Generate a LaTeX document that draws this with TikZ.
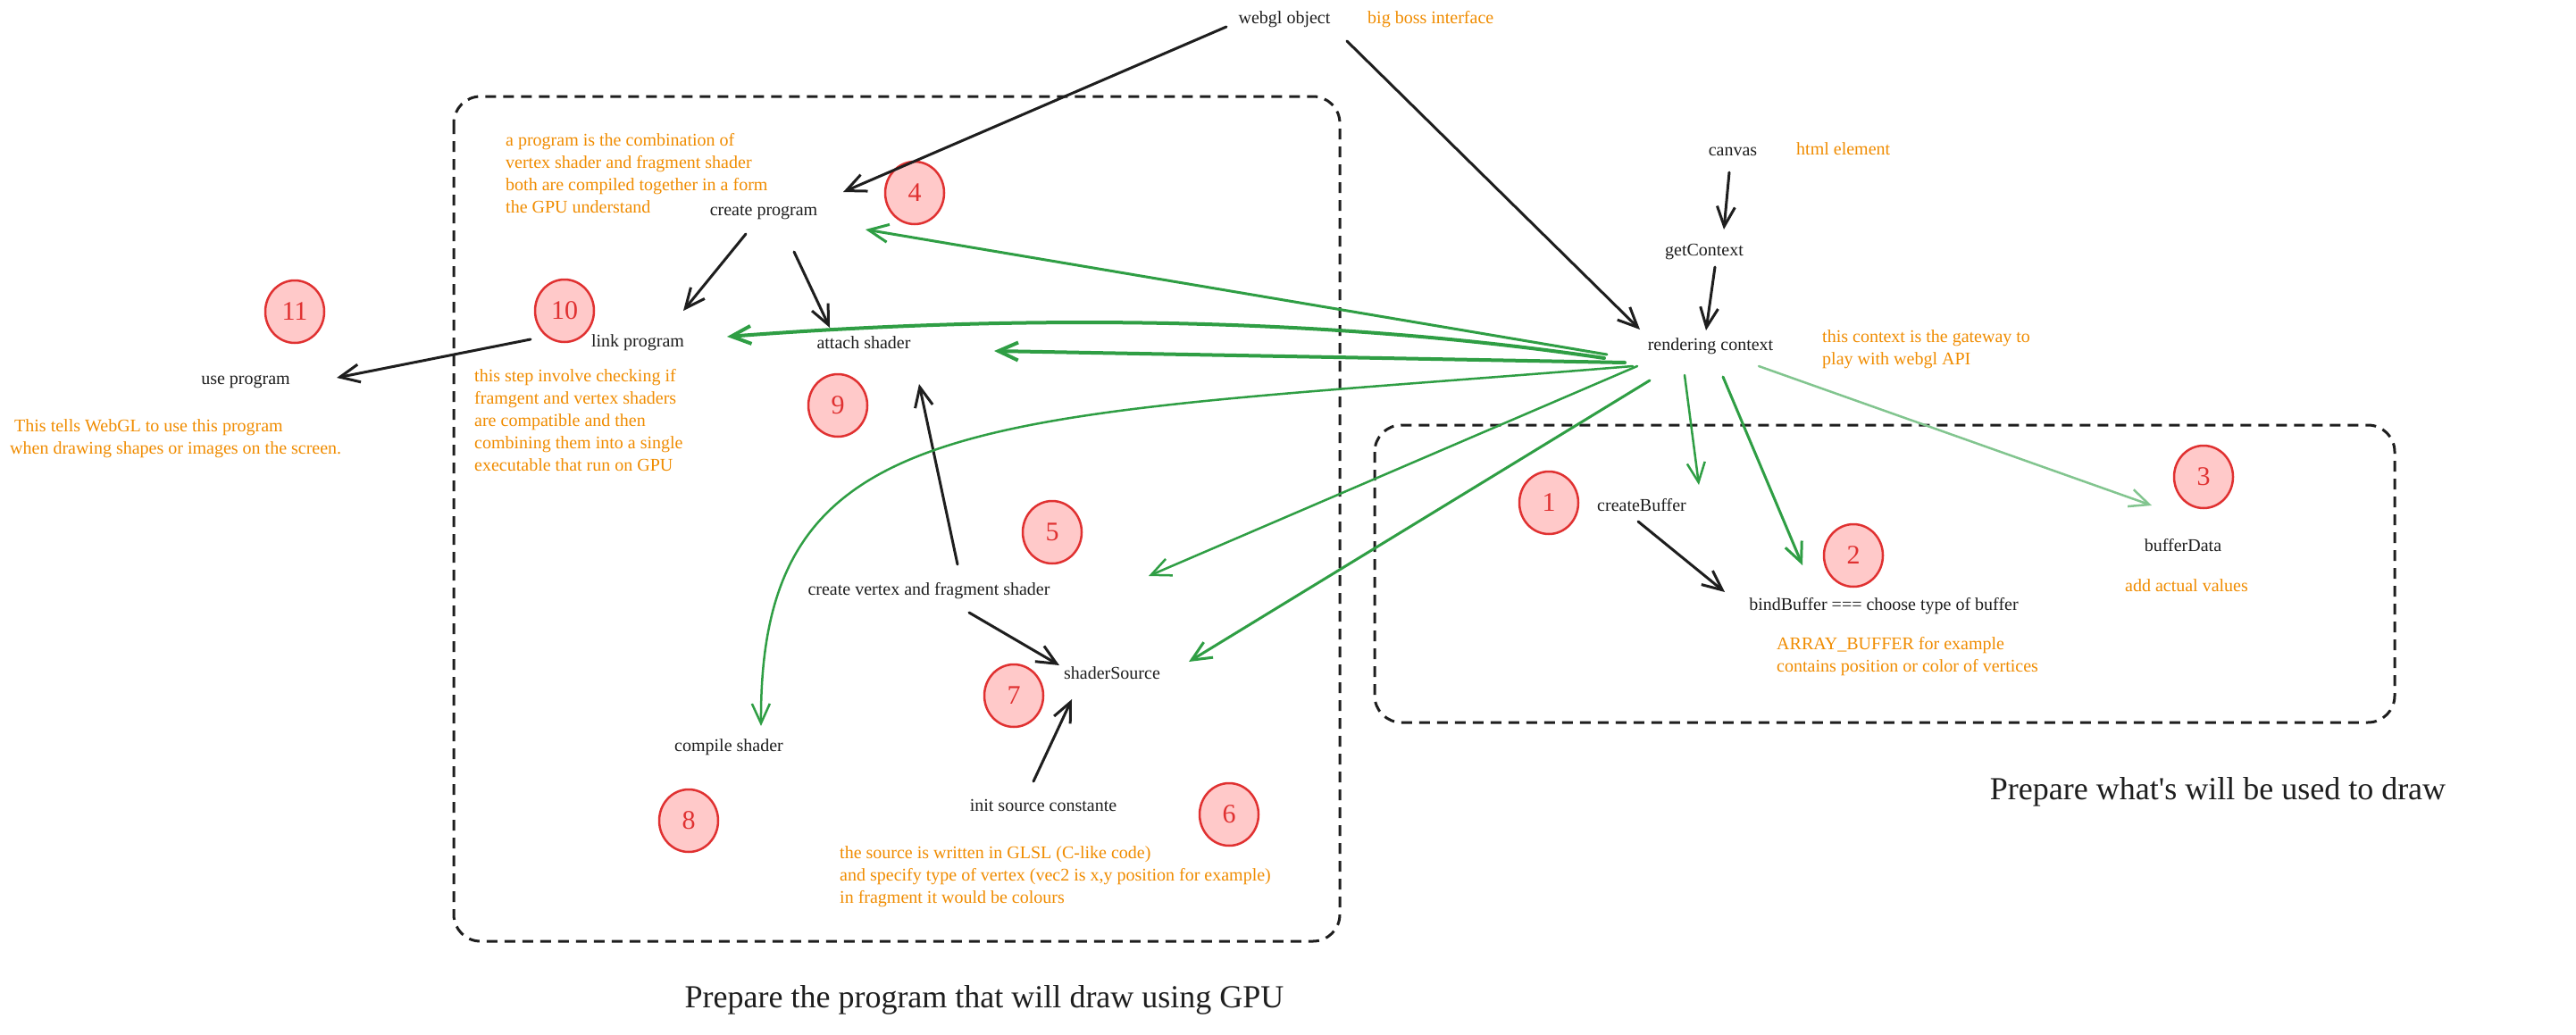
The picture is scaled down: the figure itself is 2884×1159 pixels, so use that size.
\documentclass[tikz,border=0pt]{standalone}
\usepackage{fontspec}
\setmainfont{Liberation Serif}
\usetikzlibrary{arrows.meta,shapes.geometric}
\definecolor{ink}{HTML}{1E1E1E}
\definecolor{orng}{HTML}{F08C00}
\definecolor{grn}{HTML}{2F9E44}
\definecolor{rd}{HTML}{E03131}
\definecolor{pinkfill}{HTML}{FFC9C9}
\begin{document}
\begin{tikzpicture}[x=1pt,y=-1pt,
  lbl/.style={inner sep=0pt, text height=14pt, text depth=5pt, font=\fontsize{20}{24}\selectfont, text=ink},
  note/.style={inner sep=0pt, anchor=west, align=left, font=\fontsize{20}{25}\selectfont, text=orng},
  num/.style={ellipse, draw=rd, fill=pinkfill, line width=2.5pt, minimum width=66pt, minimum height=70pt, inner sep=0pt, text=rd, font=\fontsize{30}{30}\selectfont},
  ttl/.style={inner sep=0pt, font=\fontsize{36}{40}\selectfont, text=ink},
  tip/.style={-{Straight Barb[length=22pt,width=20pt]}},
  blk/.style={tip, draw=ink, line width=3pt, line cap=round},
  gthick/.style={tip, draw=grn, line width=4pt, line cap=round},
  gmid/.style={tip, draw=grn, line width=3pt, line cap=round},
  gthin/.style={tip, draw=grn, line width=2.5pt, line cap=round},
  glight/.style={tip, draw=grn!60, line width=2.5pt, line cap=round},
  zone/.style={draw=ink, line width=3pt, dash pattern=on 12pt off 8pt, rounded corners=30pt}
]
\fill[white] (0,0) rectangle (2884,1159);
\path[use as bounding box] (0,0) rectangle (2884,1159);

% zones
\draw[zone] (508,108) rectangle (1500,1054);
\draw[zone] (1539,476) rectangle (2681,809);

% nodes
\node[lbl] (webgl) at (1438,22) {webgl object};
\node[note] (boss) at (1531,22) {big boss interface};
\node[lbl] (canvas) at (1940,170) {canvas};
\node[note] (html) at (2011,167) {html element};
\node[lbl] (getctx) at (1908,282) {getContext};
\node[lbl] (render) at (1915,388) {rendering context};
\node[note] (gateway) at (2040,391) {this context is the gateway to\\play with webgl API};

\node[lbl] (createprog) at (855,237) {create program};
\node[note] (progtext) at (566,194) {a program is the combination of\\vertex shader and fragment shader\\both are compiled together in a form\\the GPU understand};
\node[num] (n4) at (1024,216) {4};
\node[lbl] (linkprog) at (714,384) {link program};
\node[lbl] (attach) at (967,386) {attach shader};
\node[num] (n10) at (632,348) {10};
\node[num] (n9) at (938,454) {9};
\node[num] (n11) at (330,349) {11};
\node[lbl] (useprog) at (275,426) {use program};
\node[note] (usetext) at (11,491) {\hspace*{5pt}This tells WebGL to use this program\\when drawing shapes or images on the screen.};
\node[note] (steptext) at (531,471) {this step involve checking if\\framgent and vertex shaders\\are compatible and then\\combining them into a single\\executable that run on GPU};
\node[num] (n5) at (1178,596) {5};
\node[lbl] (createvf) at (1040,662) {create vertex and fragment shader};
\node[lbl] (shadersrc) at (1245,756) {shaderSource};
\node[num] (n7) at (1135,779) {7};
\node[lbl] (initsrc) at (1168,904) {init source constante};
\node[num] (n6) at (1376,912) {6};
\node[note] (srctext) at (940,982) {the source is written in GLSL (C-like code)\\and specify type of vertex (vec2 is x,y position for example)\\in fragment it would be colours};
\node[lbl] (compile) at (816,837) {compile shader};
\node[num] (n8) at (771,919) {8};

\node[num] (n1) at (1734,563) {1};
\node[lbl] (createbuf) at (1838,568) {createBuffer};
\node[num] (n2) at (2075,622) {2};
\node[lbl] (bindbuf) at (2109,679) {bindBuffer === choose type of buffer};
\node[note] (arraytext) at (1989,735) {ARRAY\_BUFFER for example\\contains position or color of vertices};
\node[num] (n3) at (2467,534) {3};
\node[lbl] (bufdata) at (2444,613) {bufferData};
\node[lbl, text=orng] (addvals) at (2448,658) {add actual values};

\node[ttl] (title1) at (1102,1120) {Prepare the program that will draw using GPU};
\node[ttl] (title2) at (2483,887) {Prepare what\textquotesingle s will be used to draw};

% black connectors
\draw[blk] ([shift={(-65,8)}]webgl.center) -- ([shift={(89,-22)}]createprog.center);
\draw[blk] ([shift={(70,24)}]webgl.center) -- ([shift={(-79,-19)}]render.center);
\draw[blk] ([shift={(-4,23)}]canvas.center) -- ([shift={(22,-25)}]getctx.center);
\draw[blk] ([shift={(12,17)}]getctx.center) -- ([shift={(-5,-18)}]render.center);
\draw[blk] ([shift={(-20,25)}]createprog.center) -- ([shift={(51,-36)}]linkprog.center);
\draw[blk] ([shift={(34,45)}]createprog.center) -- ([shift={(-38,-19)}]attach.center);
\draw[blk] ([shift={(-120,-4)}]linkprog.center) -- ([shift={(102,-3)}]useprog.center);
\draw[blk] ([shift={(32,-30)}]createvf.center) -- ([shift={(62,44)}]attach.center);
\draw[blk] ([shift={(45,24)}]createvf.center) -- ([shift={(-59,-11)}]shadersrc.center);
\draw[blk] ([shift={(-11,-29)}]initsrc.center) -- ([shift={(-45,27)}]shadersrc.center);
\draw[blk] ([shift={(-4,16)}]createbuf.center) -- ([shift={(-178,-16)}]bindbuf.center);

% green connectors from the rendering context
\draw[gmid] ([shift={(-116,9)}]render.center) -- ([shift={(114,20)}]createprog.center);
\draw[gthick] ([shift={(-119,13)}]render.center) .. controls (1450,350) and (1100,355) .. ([shift={(100,-7)}]linkprog.center);
\draw[gthick] ([shift={(-96,18)}]render.center) -- ([shift={(146,7)}]attach.center);
\draw[gthin] ([shift={(-87,22)}]render.center) .. controls (1100,470) and (850,450) .. ([shift={(36,-24)}]compile.center);
\draw[gthin] ([shift={(-82,22)}]render.center) -- ([shift={(246,-17)}]createvf.center);
\draw[gmid] ([shift={(-68,38)}]render.center) -- ([shift={(86,-15)}]shadersrc.center);
\draw[gthin] ([shift={(-29,32)}]render.center) -- ([shift={(64,-25)}]createbuf.center);
\draw[gmid] ([shift={(14,34)}]render.center) -- ([shift={(-91,-46)}]bindbuf.center);
\draw[glight] ([shift={(54,22)}]render.center) -- ([shift={(-35,-47)}]bufdata.center);
\end{tikzpicture}
\end{document}
